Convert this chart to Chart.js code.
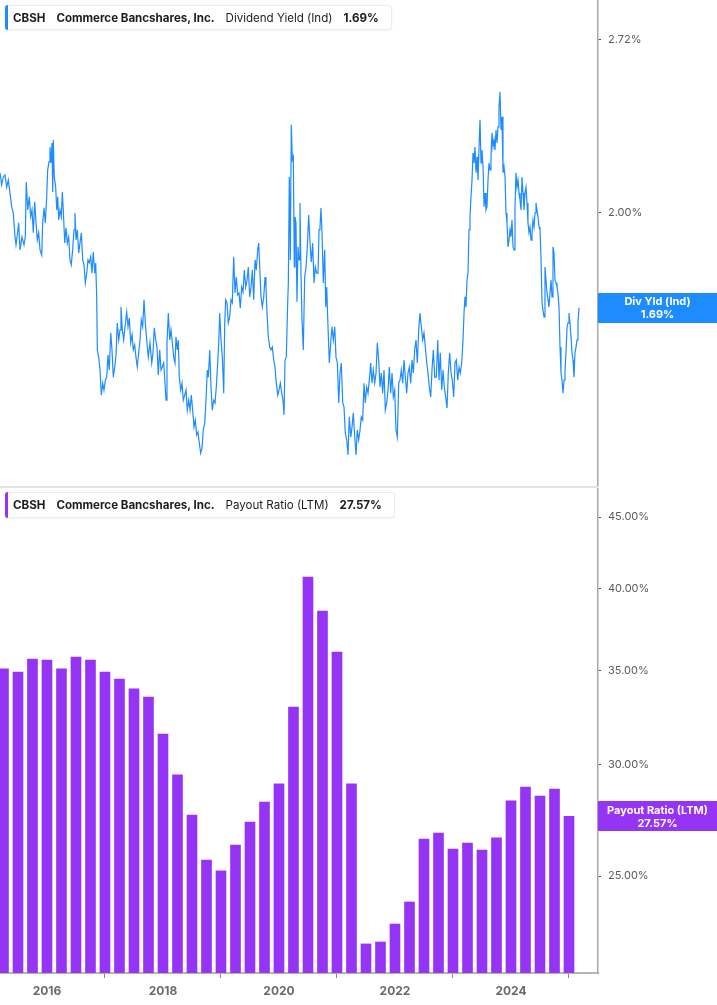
<!DOCTYPE html>
<html>
<head>
<meta charset="utf-8">
<script src="https://cdn.jsdelivr.net/npm/chart.js@4.4.1/dist/chart.umd.min.js"></script>
<style>
  html, body { margin: 0; padding: 0; background: #fff; }
  body { width: 717px; height: 1005px; position: relative; overflow: hidden; font-family: Inter, "Noto Sans", sans-serif; }
  canvas { position: absolute; left: 0; }
  #yieldChart { top: 0; }
  #payoutChart { top: 488px; }
  .sep { position: absolute; left: 0; top: 486px; width: 598px; height: 2px; background: #e2e2e2; }
  .legend { position: absolute; left: 5px; height: 25px; box-sizing: border-box; background: #fff; border: 1px solid #ebebeb; border-radius: 3px;
            box-shadow: 0 1px 2px rgba(0,0,0,0.05); display: flex; align-items: center; font-size: 11.55px; color: #1c1c1c;
            padding: 0 12px 0 7px; white-space: nowrap; }
  .legend::before { content: ""; position: absolute; left: -1px; top: -1px; bottom: -1px; width: 3px; border-radius: 3px 0 0 3px; background: var(--c); }
  .legend > * { margin-right: 11px; }
  .legend > *:last-child { margin-right: 0; }
  .legend b { font-weight: 700; }
</style>
</head>
<body>
<canvas id="yieldChart" width="717" height="487"></canvas>
<canvas id="payoutChart" width="717" height="517"></canvas>
<div class="sep"></div>
<div class="legend" style="top:5px; --c:#1e8cff"><b>CBSH</b><b>Commerce Bancshares, Inc.</b><span>Dividend Yield (Ind)</span><b>1.69%</b></div>
<div class="legend" style="top:492px; height:26px; --c:#9634f6"><b>CBSH</b><b>Commerce Bancshares, Inc.</b><span>Payout Ratio (LTM)</span><b>27.57%</b></div>
<script>
// ---- data ----
// dividend yield (%), dates as decimal years
const yieldDates = [
  2015.190, 2015.219, 2015.247, 2015.276, 2015.306, 2015.333, 2015.362, 2015.392, 2015.419, 2015.449,
  2015.466, 2015.488, 2015.512, 2015.535, 2015.569, 2015.604, 2015.626, 2015.643, 2015.668, 2015.695,
  2015.719, 2015.742, 2015.764, 2015.788, 2015.811, 2015.833, 2015.857, 2015.880, 2015.909, 2015.926,
  2015.949, 2015.971, 2015.995, 2016.012, 2016.035, 2016.052, 2016.069, 2016.087, 2016.099, 2016.109,
  2016.126, 2016.150, 2016.168, 2016.185, 2016.202, 2016.224, 2016.247, 2016.264, 2016.281, 2016.306,
  2016.328, 2016.350, 2016.374, 2016.397, 2016.419, 2016.443, 2016.466, 2016.483, 2016.500, 2016.523,
  2016.547, 2016.569, 2016.592, 2016.616, 2016.638, 2016.661, 2016.685, 2016.707, 2016.730, 2016.754,
  2016.776, 2016.799, 2016.823, 2016.840, 2016.857, 2016.868, 2016.892, 2016.914, 2016.937, 2016.961,
  2016.983, 2017.006, 2017.030, 2017.052, 2017.074, 2017.099, 2017.121, 2017.143, 2017.168, 2017.190,
  2017.212, 2017.237, 2017.259, 2017.276, 2017.299, 2017.323, 2017.345, 2017.374, 2017.397, 2017.419,
  2017.443, 2017.466, 2017.488, 2017.512, 2017.534, 2017.557, 2017.581, 2017.604, 2017.626, 2017.650,
  2017.673, 2017.695, 2017.719, 2017.747, 2017.776, 2017.806, 2017.828, 2017.850, 2017.874, 2017.897,
  2017.919, 2017.943, 2017.966, 2017.988, 2018.012, 2018.035, 2018.052, 2018.069, 2018.092, 2018.116,
  2018.138, 2018.161, 2018.185, 2018.207, 2018.224, 2018.247, 2018.264, 2018.281, 2018.306, 2018.328,
  2018.350, 2018.374, 2018.397, 2018.419, 2018.443, 2018.466, 2018.488, 2018.512, 2018.535, 2018.557,
  2018.581, 2018.604, 2018.626, 2018.650, 2018.673, 2018.695, 2018.719, 2018.742, 2018.764, 2018.782,
  2018.806, 2018.828, 2018.850, 2018.874, 2018.897, 2018.919, 2018.943, 2018.961, 2018.978, 2019.000,
  2019.023, 2019.047, 2019.064, 2019.081, 2019.104, 2019.126, 2019.150, 2019.173, 2019.195, 2019.219,
  2019.242, 2019.264, 2019.288, 2019.311, 2019.333, 2019.357, 2019.380, 2019.402, 2019.426, 2019.449,
  2019.471, 2019.495, 2019.518, 2019.540, 2019.564, 2019.587, 2019.609, 2019.633, 2019.650, 2019.668,
  2019.690, 2019.712, 2019.737, 2019.759, 2019.776, 2019.793, 2019.816, 2019.840, 2019.862, 2019.885,
  2019.909, 2019.931, 2019.954, 2019.978, 2020.000, 2020.023, 2020.047, 2020.069, 2020.087, 2020.104,
  2020.126, 2020.150, 2020.161, 2020.178, 2020.195, 2020.212, 2020.230, 2020.247, 2020.264, 2020.276,
  2020.293, 2020.310, 2020.328, 2020.345, 2020.362, 2020.379, 2020.397, 2020.419, 2020.443, 2020.466,
  2020.488, 2020.512, 2020.535, 2020.557, 2020.581, 2020.604, 2020.626, 2020.650, 2020.673, 2020.690,
  2020.707, 2020.724, 2020.742, 2020.764, 2020.788, 2020.806, 2020.823, 2020.845, 2020.868, 2020.892,
  2020.914, 2020.937, 2020.961, 2020.983, 2021.006, 2021.030, 2021.052, 2021.074, 2021.099, 2021.121,
  2021.143, 2021.168, 2021.190, 2021.212, 2021.237, 2021.259, 2021.281, 2021.306, 2021.328, 2021.350,
  2021.374, 2021.397, 2021.419, 2021.443, 2021.466, 2021.488, 2021.512, 2021.535, 2021.557, 2021.581,
  2021.604, 2021.626, 2021.650, 2021.673, 2021.695, 2021.719, 2021.742, 2021.764, 2021.788, 2021.811,
  2021.833, 2021.857, 2021.880, 2021.902, 2021.926, 2021.949, 2021.971, 2021.995, 2022.017, 2022.040,
  2022.064, 2022.086, 2022.109, 2022.133, 2022.156, 2022.178, 2022.202, 2022.224, 2022.247, 2022.271,
  2022.293, 2022.316, 2022.340, 2022.362, 2022.385, 2022.409, 2022.431, 2022.454, 2022.478, 2022.500,
  2022.523, 2022.547, 2022.569, 2022.592, 2022.616, 2022.638, 2022.661, 2022.685, 2022.712, 2022.737,
  2022.759, 2022.781, 2022.806, 2022.828, 2022.850, 2022.874, 2022.897, 2022.919, 2022.943, 2022.966,
  2022.988, 2023.012, 2023.035, 2023.057, 2023.081, 2023.104, 2023.126, 2023.150, 2023.173, 2023.190,
  2023.207, 2023.224, 2023.242, 2023.259, 2023.276, 2023.293, 2023.310, 2023.328, 2023.345, 2023.362,
  2023.379, 2023.397, 2023.414, 2023.431, 2023.449, 2023.466, 2023.483, 2023.500, 2023.518, 2023.535,
  2023.552, 2023.569, 2023.586, 2023.604, 2023.621, 2023.638, 2023.655, 2023.673, 2023.690, 2023.707,
  2023.724, 2023.742, 2023.759, 2023.776, 2023.793, 2023.810, 2023.828, 2023.845, 2023.862, 2023.879,
  2023.897, 2023.914, 2023.931, 2023.948, 2023.966, 2023.983, 2024.000, 2024.017, 2024.035, 2024.052,
  2024.069, 2024.086, 2024.103, 2024.121, 2024.138, 2024.155, 2024.173, 2024.190, 2024.207, 2024.224,
  2024.241, 2024.259, 2024.276, 2024.293, 2024.310, 2024.328, 2024.345, 2024.362, 2024.379, 2024.397,
  2024.414, 2024.431, 2024.448, 2024.466, 2024.483, 2024.500, 2024.517, 2024.535, 2024.552, 2024.569,
  2024.586, 2024.603, 2024.621, 2024.638, 2024.655, 2024.672, 2024.690, 2024.707, 2024.724, 2024.741,
  2024.759, 2024.776, 2024.793, 2024.810, 2024.828, 2024.845, 2024.862, 2024.879, 2024.897, 2024.914,
  2024.931, 2024.948, 2024.966, 2024.983, 2025.000, 2025.017, 2025.034, 2025.052, 2025.069, 2025.086,
  2025.103, 2025.121, 2025.138, 2025.155, 2025.172
];
const yieldValues = [
  2.148, 2.102, 2.132, 2.140, 2.094, 2.121, 2.072, 2.022, 2.000, 1.917,
  1.890, 1.924, 1.965, 1.873, 1.917, 1.890, 1.917, 2.113, 2.011, 2.058,
  1.986, 2.011, 1.931, 2.040, 1.965, 1.906, 1.931, 1.873, 1.856, 1.965,
  2.018, 1.965, 2.058, 2.159, 2.190, 2.249, 2.186, 2.265, 2.076, 2.277,
  2.132, 2.094, 2.011, 2.058, 1.975, 2.011, 1.986, 2.076, 2.011, 1.896,
  1.948, 1.896, 1.917, 1.840, 1.824, 1.873, 1.941, 2.000, 1.906, 1.941,
  1.863, 1.896, 1.931, 1.840, 1.824, 1.766, 1.797, 1.840, 1.830, 1.850,
  1.797, 1.866, 1.797, 1.830, 1.723, 1.568, 1.548, 1.513, 1.447, 1.478,
  1.460, 1.486, 1.494, 1.554, 1.513, 1.616, 1.568, 1.494, 1.521, 1.554,
  1.645, 1.596, 1.625, 1.692, 1.625, 1.596, 1.634, 1.677, 1.634, 1.660,
  1.588, 1.611, 1.568, 1.582, 1.548, 1.521, 1.560, 1.596, 1.654, 1.634,
  1.714, 1.645, 1.596, 1.548, 1.588, 1.532, 1.560, 1.631, 1.596, 1.576,
  1.500, 1.568, 1.513, 1.521, 1.532, 1.478, 1.434, 1.588, 1.674, 1.596,
  1.625, 1.588, 1.548, 1.532, 1.605, 1.568, 1.596, 1.494, 1.460, 1.478,
  1.434, 1.447, 1.460, 1.409, 1.434, 1.409, 1.447, 1.409, 1.367, 1.384,
  1.348, 1.355, 1.329, 1.305, 1.317, 1.360, 1.377, 1.434, 1.513, 1.494,
  1.568, 1.468, 1.409, 1.434, 1.427, 1.468, 1.532, 1.588, 1.674, 1.596,
  1.548, 1.452, 1.645, 1.714, 1.705, 1.645, 1.663, 1.714, 1.705, 1.850,
  1.735, 1.785, 1.729, 1.735, 1.689, 1.753, 1.738, 1.807, 1.753, 1.775,
  1.817, 1.723, 1.753, 1.807, 1.714, 1.840, 1.807, 1.873, 1.896, 1.817,
  1.723, 1.692, 1.723, 1.785, 1.753, 1.674, 1.605, 1.576, 1.568, 1.576,
  1.540, 1.521, 1.478, 1.447, 1.460, 1.478, 1.452, 1.434, 1.397, 1.540,
  1.548, 1.705, 1.766, 2.132, 1.840, 2.339, 2.198, 2.210, 1.817, 1.986,
  1.965, 1.708, 1.883, 1.840, 2.036, 1.797, 1.654, 1.568, 1.785, 1.817,
  1.883, 1.993, 1.896, 1.833, 1.896, 1.766, 1.817, 1.797, 1.797, 1.941,
  1.951, 2.018, 1.931, 1.766, 1.873, 1.692, 1.753, 1.634, 1.532, 1.588,
  1.634, 1.596, 1.634, 1.548, 1.532, 1.427, 1.505, 1.532, 1.427, 1.417,
  1.353, 1.336, 1.301, 1.392, 1.343, 1.367, 1.402, 1.343, 1.301, 1.360,
  1.336, 1.360, 1.392, 1.384, 1.478, 1.427, 1.468, 1.452, 1.486, 1.532,
  1.478, 1.513, 1.478, 1.505, 1.588, 1.540, 1.468, 1.505, 1.452, 1.513,
  1.409, 1.427, 1.460, 1.521, 1.452, 1.505, 1.442, 1.460, 1.360, 1.343,
  1.478, 1.486, 1.513, 1.478, 1.540, 1.494, 1.452, 1.505, 1.521, 1.478,
  1.540, 1.505, 1.568, 1.596, 1.532, 1.625, 1.674, 1.634, 1.596, 1.616,
  1.576, 1.532, 1.505, 1.468, 1.442, 1.513, 1.568, 1.494, 1.494, 1.596,
  1.486, 1.560, 1.460, 1.513, 1.468, 1.442, 1.414, 1.505, 1.560, 1.505,
  1.486, 1.442, 1.532, 1.540, 1.486, 1.521, 1.505, 1.532, 1.596, 1.674,
  1.723, 1.692, 1.775, 1.797, 1.941, 1.986, 2.058, 2.121, 2.225, 2.186,
  2.249, 2.148, 2.210, 2.121, 2.249, 2.360, 2.186, 2.237, 2.171, 2.022,
  2.072, 2.011, 2.022, 2.121, 2.186, 2.159, 2.210, 2.306, 2.249, 2.277,
  2.237, 2.318, 2.265, 2.331, 2.415, 2.480, 2.318, 2.373, 2.148, 2.171,
  2.132, 2.000, 1.965, 1.883, 1.906, 1.941, 1.917, 1.975, 1.883, 1.873,
  2.022, 2.148, 2.094, 2.121, 2.072, 2.047, 2.011, 2.132, 2.072, 2.011,
  2.072, 2.094, 2.036, 1.965, 1.931, 1.951, 1.906, 1.931, 1.975, 1.951,
  2.000, 2.036, 2.011, 1.986, 1.951, 1.941, 1.850, 1.705, 1.683, 1.663,
  1.817, 1.775, 1.735, 1.714, 1.692, 1.735, 1.775, 1.723, 1.883, 1.863,
  1.775, 1.766, 1.753, 1.735, 1.692, 1.576, 1.505, 1.486, 1.452, 1.486,
  1.513, 1.560, 1.634, 1.645, 1.674, 1.645, 1.605, 1.560, 1.540, 1.494,
  1.560, 1.576, 1.596, 1.645, 1.690
];

// payout ratio (LTM, %), quarter ends as decimal years
const payoutDates = [
  2015.25, 2015.50, 2015.75, 2016.00, 2016.25, 2016.50, 2016.75, 2017.00, 2017.25, 2017.50,
  2017.75, 2018.00, 2018.25, 2018.50, 2018.75, 2019.00, 2019.25, 2019.50, 2019.75, 2020.00,
  2020.25, 2020.50, 2020.75, 2021.00, 2021.25, 2021.50, 2021.75, 2022.00, 2022.25, 2022.50,
  2022.75, 2023.00, 2023.25, 2023.50, 2023.75, 2024.00, 2024.25, 2024.50, 2024.75, 2025.00
];
const payoutValues = [
  35.09, 34.91, 35.66, 35.61, 35.09, 35.78, 35.61, 34.91, 34.52, 33.96,
  33.51, 31.54, 29.50, 27.62, 25.66, 25.21, 26.30, 27.31, 28.22, 29.07,
  32.97, 40.79, 38.58, 36.08, 29.07, 22.37, 22.44, 23.11, 23.96, 26.56,
  26.82, 26.13, 26.39, 26.09, 26.61, 28.27, 28.92, 28.50, 28.83, 27.57
];

// axis ticks
const yearTicks = [2016, 2018, 2020, 2022, 2024];
const yieldTicks = [2.00, 2.72];
const payoutTicks = [25, 30, 35, 40, 45];

if (yieldDates.length !== yieldValues.length) {
  throw new Error("yield arrays differ: " + yieldDates.length + " vs " + yieldValues.length);
}

// ---- layout ----
const X_MIN = 2015.19, X_MAX = 2025.50;
const AXIS_WIDTH = 119;           // right value axis
const BLUE = "#1e8cff";
const PURPLE = "#9634f6";

Chart.defaults.font.family = "Inter, 'Noto Sans', sans-serif";
Chart.defaults.animation = false;

const pct = (v) => Number(v).toFixed(2) + "%";

// coloured tag on the right axis showing the latest value
const valueTag = {
  id: "valueTag",
  afterDraw(chart, args, opts) {
    const { ctx, chartArea } = chart;
    const y = chart.scales.y.getPixelForValue(opts.value);
    const x = chartArea.right;
    ctx.save();
    ctx.fillStyle = opts.color;
    ctx.fillRect(x, Math.round(y) - 15, chart.width - x, 30);
    ctx.fillStyle = "#fff";
    ctx.font = "bold 11px Inter, 'Noto Sans', sans-serif";
    ctx.textAlign = "center";
    ctx.textBaseline = "middle";
    const cx = x + (chart.width - x) / 2;
    ctx.fillText(opts.title, cx, y - 6);
    ctx.fillText(pct(opts.value), cx, y + 7);
    ctx.restore();
  }
};

const valueAxis = (min, max, ticks) => ({
  type: "logarithmic",
  position: "right",
  min: min,
  max: max,
  afterBuildTicks: (s) => { s.ticks = ticks.map((v) => ({ value: v })); },
  afterFit: (s) => { s.width = AXIS_WIDTH; s.paddingTop = 0; s.paddingBottom = 0; },
  grid: { drawOnChartArea: false, drawTicks: true, tickLength: 3, tickWidth: 1, color: "#555" },
  border: { display: true, color: "#a8a8a8", width: 1.5 },
  ticks: { color: "#5a5a5a", font: { size: 11 }, padding: 7, autoSkip: false, callback: (v) => pct(v) }
});

// ========================= Dividend yield ========================= //
new Chart(document.getElementById("yieldChart"), {
  type: "line",
  data: {
    datasets: [{
      data: yieldDates.map((t, i) => ({ x: t, y: yieldValues[i] })),
      borderColor: BLUE,
      borderWidth: 1.2,
      pointRadius: 0,
      tension: 0
    }]
  },
  options: {
    responsive: false,
    layout: { padding: 0 },
    plugins: {
      legend: { display: false },
      tooltip: { enabled: false },
      valueTag: { value: yieldValues[yieldValues.length - 1], title: "Div Yld (Ind)", color: BLUE }
    },
    scales: {
      x: { type: "linear", min: X_MIN, max: X_MAX, display: false },
      y: valueAxis(1.229, 2.920, yieldTicks)
    }
  },
  plugins: [valueTag]
});

// ========================= Payout ratio ========================= //
new Chart(document.getElementById("payoutChart"), {
  type: "bar",
  data: {
    datasets: [{
      data: payoutDates.map((t, i) => ({ x: t, y: payoutValues[i] })),
      backgroundColor: PURPLE,
      borderWidth: 0,
      barThickness: 10,
      base: 21.33
    }]
  },
  options: {
    responsive: false,
    layout: { padding: 0 },
    plugins: {
      legend: { display: false },
      tooltip: { enabled: false },
      valueTag: { value: payoutValues[payoutValues.length - 1], title: "Payout Ratio (LTM)", color: PURPLE }
    },
    scales: {
      x: {
        type: "linear",
        min: X_MIN,
        max: X_MAX,
        offset: false,
        afterBuildTicks: (s) => { s.ticks = yearTicks.map((v) => ({ value: v })); },
        afterFit: (s) => { s.height = 32; s.paddingLeft = 0; s.paddingRight = 0; },
        grid: { drawOnChartArea: false, drawTicks: true, tickLength: 5, color: "#888" },
        border: { display: true, color: "#b5b5b5", width: 2 },
        ticks: { color: "#6a6a6a", font: { size: 12, weight: "bold" }, padding: 6, autoSkip: false, maxRotation: 0, callback: (v) => String(v) }
      },
      y: valueAxis(21.33, 47.19, payoutTicks)
    }
  },
  plugins: [valueTag]
});
</script>
</body>
</html>
